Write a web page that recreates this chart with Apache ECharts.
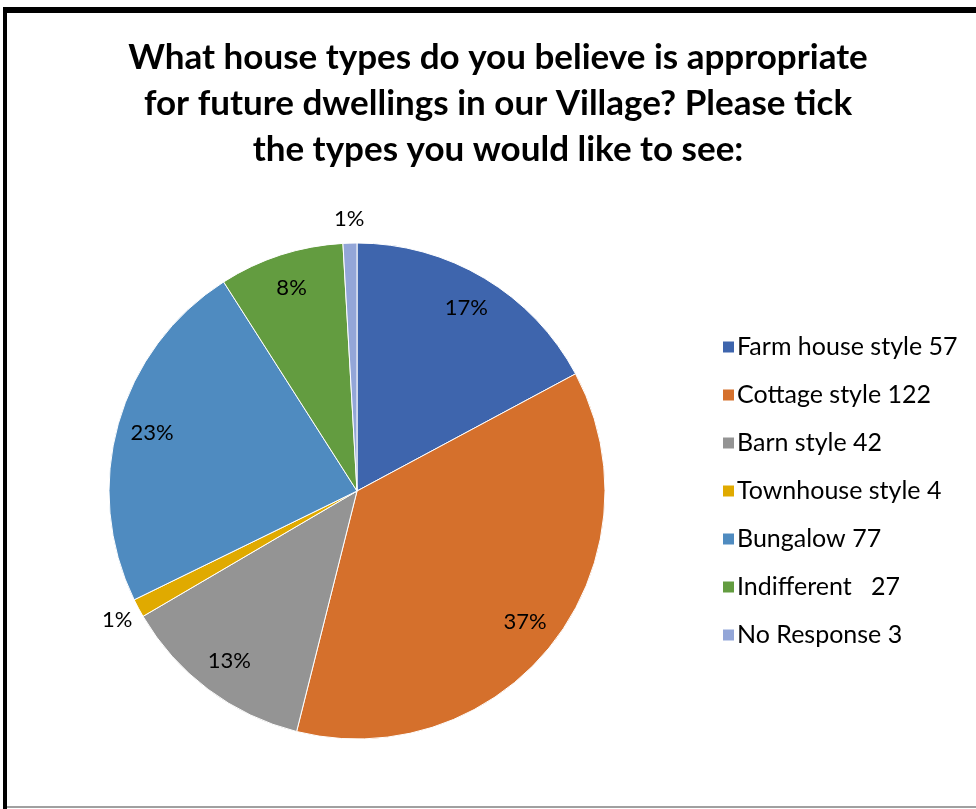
<!DOCTYPE html>
<html>
<head>
<meta charset="utf-8">
<script src="https://cdn.jsdelivr.net/npm/echarts@6/dist/echarts.min.js"></script>
<style>
html,body{margin:0;padding:0;background:#fff;}
#chart{width:976px;height:809px;}
</style>
</head>
<body>
<div id="chart"></div>
<script>
const titleText = 'What house types do you believe is appropriate\nfor future dwellings in our Village? Please tick\nthe types you would like to see:';
const categories = ['Farm house style 57','Cottage style 122','Barn style 42','Townhouse style 4','Bungalow 77','Indifferent   27','No Response 3'];
const values = [57,122,42,4,77,27,3];
const colors = ['#3e65ad','#d5702c','#949494','#e0aa00','#4f8bc0','#639c40','#93a6d8'];

const total = values.reduce((a,b)=>a+b,0);
const pct = v => Math.round(v/total*100);
const pieData = categories.map((n,i)=>({name:n,value:values[i],itemStyle:{color:colors[i]}}));
const plainData = categories.map((n,i)=>({name:n,value:values[i]}));
const font = 'Lato, Calibri, Carlito, sans-serif';

const chart = echarts.init(document.getElementById('chart'));
chart.setOption({
  animation:false,
  backgroundColor:'#fff',
  title:{
    text:titleText,
    left:493, textAlign:'center', top:30,
    textStyle:{fontFamily:font,fontWeight:'bold',fontSize:35,lineHeight:46,color:'#000'}
  },
  legend:{
    orient:'vertical', left:716, top:329,
    itemWidth:13, itemHeight:13, itemGap:22,
    selectedMode:false,
    icon:'rect',
    data:categories,
    textStyle:{fontFamily:font,fontSize:25,lineHeight:26,color:'#000',padding:[0,0,0,-3]}
  },
  graphic:[
    {type:'rect',shape:{x:3,y:7,width:973,height:6},style:{fill:'#000'},z:100},
    {type:'rect',shape:{x:3,y:7,width:4,height:802},style:{fill:'#000'},z:100},
    {type:'rect',shape:{x:7,y:806,width:969,height:2},style:{fill:'#a0a0a0'},z:100}
  ],
  series:[
    {
      type:'pie', center:[357,491], radius:[0,248],
      startAngle:90, clockwise:true,
      silent:true, label:{show:false}, labelLine:{show:false},
      itemStyle:{borderColor:'#fff',borderWidth:1},
      data:pieData
    },
    {
      type:'pie', center:[357,491], radius:[172,248],
      startAngle:90, clockwise:true, silent:true,
      itemStyle:{color:'rgba(0,0,0,0)'},
      label:{show:true,position:'inside',fontFamily:font,fontSize:22,color:'#000',
        formatter:p=> pct(p.value)>=3 ? pct(p.value)+'%' : ''},
      labelLine:{show:false},
      data:plainData
    },
    {
      type:'pie', center:[357,491], radius:[245,293],
      startAngle:90, clockwise:true, silent:true,
      itemStyle:{color:'rgba(0,0,0,0)'},
      label:{show:true,position:'inside',fontFamily:font,fontSize:22,color:'#000',
        formatter:p=> pct(p.value)<3 ? pct(p.value)+'%' : ''},
      labelLine:{show:false},
      data:plainData
    }
  ]
});
</script>
</body>
</html>
